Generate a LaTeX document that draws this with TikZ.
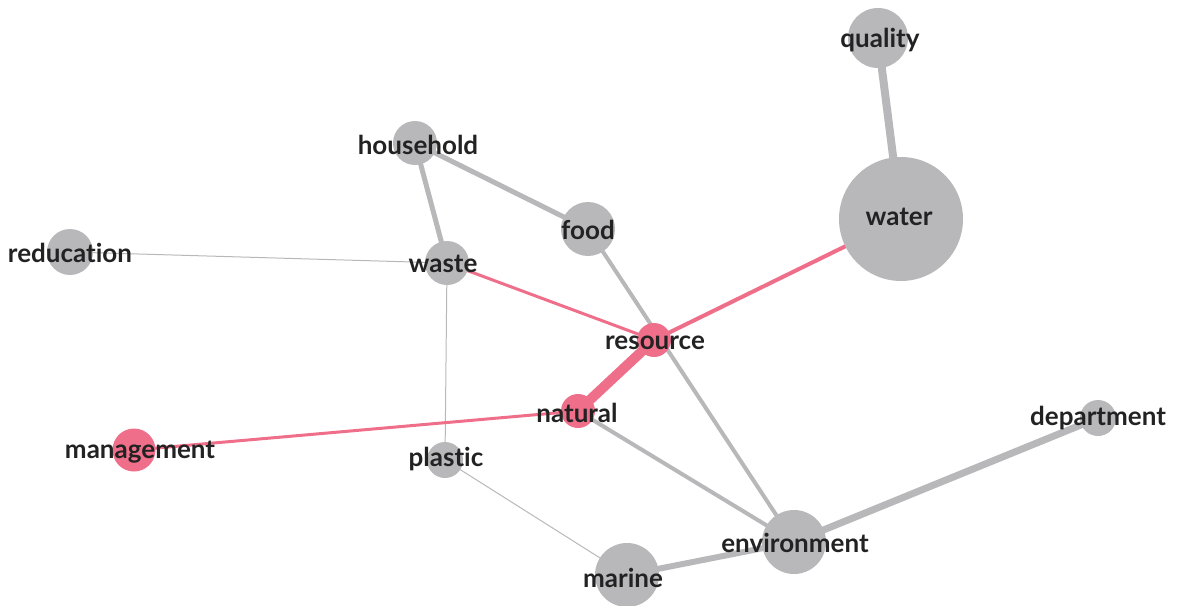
\documentclass[tikz,border=0pt]{standalone}
\usepackage{fontspec}
\setmainfont[Ligatures={NoCommon}]{Lato}
\usepackage{tikz}
\definecolor{mygray}{RGB}{184,184,186}
\definecolor{mypink}{RGB}{239,111,139}
\definecolor{mytext}{RGB}{34,34,34}
\pgfdeclarelayer{background}
\pgfsetlayers{background,main}
\tikzset{
		grayNode/.style = {circle, fill=mygray, inner sep=0pt},
		pinkNode/.style = {circle, fill=mypink, inner sep=0pt},
		nodeLabel/.style = {text=mytext, inner sep=0pt, font=\fontsize{26}{26}\selectfont\bfseries},
		grayEdge/.style = {draw=mygray},
		pinkEdge/.style = {draw=mypink}
}

\begin{document}
\begin{tikzpicture}[x=1pt,y=-1pt]
  \useasboundingbox (0,0) rectangle (1180,605);

  % Draw the words as discs
  \foreach \n/\x/\y/\d/\s in {quality/878/38/60/grayNode, water/901/219/124/grayNode,
      household/415/143/44/grayNode, food/588/229/54/grayNode, reducation/70/252/46/grayNode,
      waste/447/263/44/grayNode, resource/654/340/34/pinkNode, natural/578/411/34/pinkNode,
      management/134/450/43/pinkNode, plastic/445/460/36/grayNode, department/1098/418/36/grayNode,
      environment/794/542/64/grayNode, marine/627/575/64/grayNode}
    \node [\s, minimum size=\d] (\n) at (\x,\y) {};

  % Draw links between words
  \begin{pgfonlayer}{background}
    \foreach \a/\b/\w/\s in {quality/water/8/grayEdge, household/waste/5/grayEdge,
        household/food/5/grayEdge, reducation/waste/1/grayEdge, waste/plastic/1/grayEdge,
        plastic/marine/1/grayEdge, food/environment/4/grayEdge, natural/environment/4/grayEdge,
        marine/environment/6/grayEdge, department/environment/7/grayEdge,
        waste/resource/3/pinkEdge, water/resource/4/pinkEdge, resource/natural/10/pinkEdge,
        natural/management/3/pinkEdge}
      \draw [\s, line width=\w] (\a.center) -- (\b.center);
  \end{pgfonlayer}

  % Write the words on top
  \foreach \n/\dx/\dy in {quality/2/-2, water/-2/2, household/3/-2, food/0/-1, reducation/0/-1,
      waste/-4/-1, resource/1/-3, natural/-1/-2, management/6/-2, plastic/1/1,
      department/0/0, environment/1/-1, marine/-4/-3}
    \node [nodeLabel, xshift=\dx, yshift=\dy] (\n-label) at (\n) {\n};

\end{tikzpicture}
\end{document}
